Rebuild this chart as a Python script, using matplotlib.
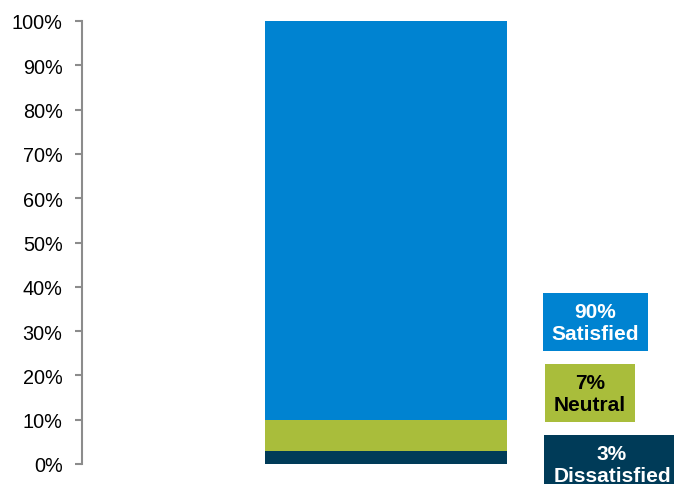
import matplotlib
matplotlib.use("Agg")
import matplotlib.pyplot as plt
from matplotlib.patches import Rectangle
from matplotlib.ticker import PercentFormatter

plt.rcParams['font.family'] = ['Liberation Sans', 'DejaVu Sans']

categories = ["Dissatisfied", "Neutral", "Satisfied"]
values = [3, 7, 90]
colors = ["#003B58", "#A9BD3B", "#0083D1"]
text_colors = ["white", "black", "white"]
yticks = [0, 10, 20, 30, 40, 50, 60, 70, 80, 90, 100]

W, H = 674, 485
fig = plt.figure(figsize=(W / 100, H / 100), dpi=100)
ax = fig.add_axes([82 / W, 20 / H, (W - 82) / W, 443 / H])

bottom = 0
for v, c in zip(values, colors):
    ax.bar([0], [v], bottom=bottom, width=0.6, color=c, linewidth=0)
    bottom += v

ax.set_ylim(0, 100)
ax.set_xlim(-0.7537, 0.7142)
ax.set_yticks(yticks)
ax.yaxis.set_major_formatter(PercentFormatter(100, decimals=0))
for s in ["top", "right", "bottom"]:
    ax.spines[s].set_visible(False)
ax.spines["left"].set_color("#8C8C8C")
ax.spines["left"].set_linewidth(1.5)
ax.tick_params(axis="y", length=5, width=1.5, color="#8C8C8C", labelsize=14.3, pad=9, labelcolor="#000000")
ax.set_xticks([])

# label boxes (pixel layout: x0, x1, y_top, y_bottom)
boxes = {"Satisfied": (543, 648, 294, 352),
         "Neutral": (545, 635, 365, 423),
         "Dissatisfied": (544, 700, 436, 500)}
text_x = {"Satisfied": 595.5, "Neutral": 590, "Dissatisfied": 612}
text_y = {"Satisfied": 324, "Neutral": 394.5, "Dissatisfied": 466}
for cat, v, c, tc in zip(categories, values, colors, text_colors):
    x0, x1, yt, yb = boxes[cat]
    fig.patches.append(Rectangle((x0 / W, 1 - yb / H), (x1 - x0) / W, (yb - yt) / H,
                                 transform=fig.transFigure, facecolor=c, edgecolor="none"))
    fig.text(text_x[cat] / W, 1 - text_y[cat] / H, f"{v}%\n{cat}", ha="center", va="center",
             fontsize=15, fontweight="bold", color=tc, linespacing=1.2)

fig.savefig("out.png", dpi=100)
